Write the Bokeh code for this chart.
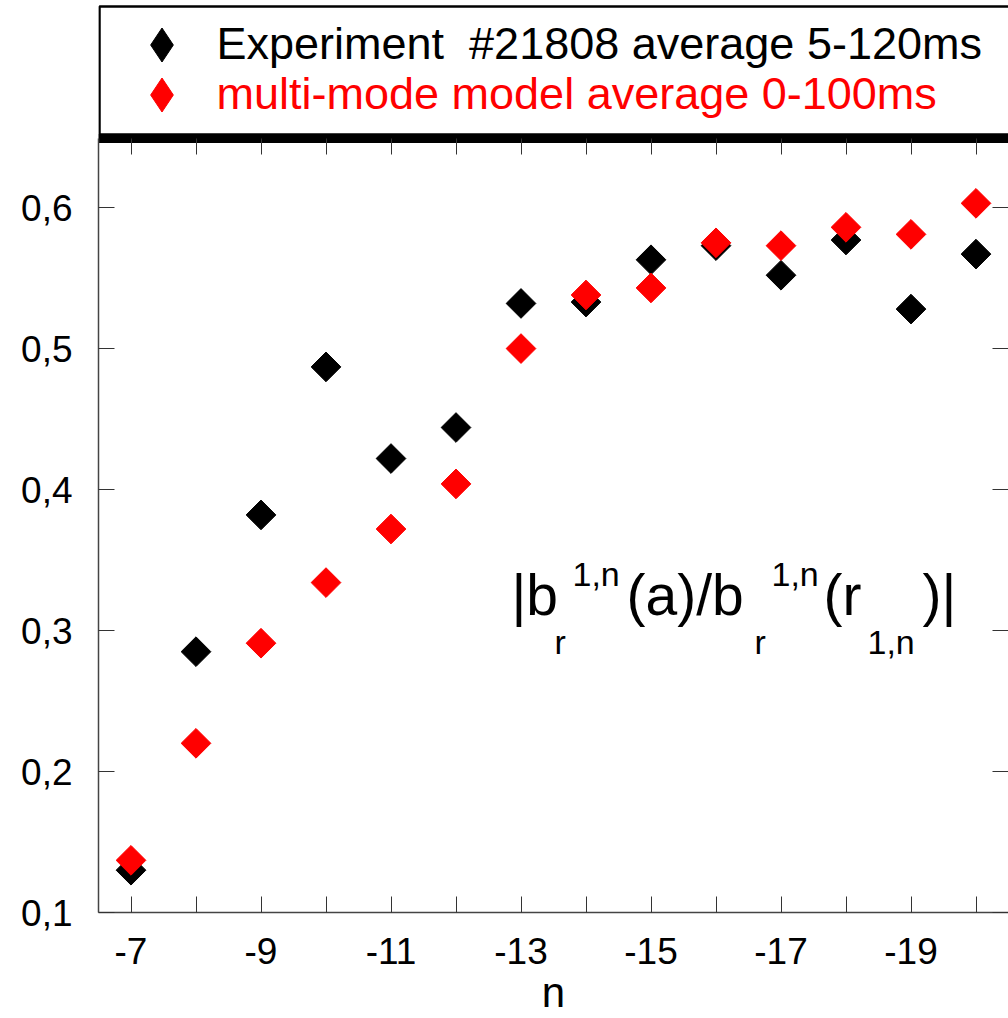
import math
from bokeh.plotting import figure
from bokeh.layouts import column
from bokeh.models import (Range1d, LinearAxis, FixedTicker, CustomJSTickFormatter, ColumnDataSource,
                          Legend, LegendItem, BoxAnnotation, Label, CustomLabelingPolicy)
from bokeh.embed import file_html
from bokeh.resources import INLINE

# ---- data ----
n_values = [-7, -8, -9, -10, -11, -12, -13, -14, -15, -16, -17, -18, -19, -20]
experiment = [0.130, 0.285, 0.382, 0.487, 0.422, 0.444, 0.532, 0.533, 0.563, 0.573, 0.552, 0.577, 0.528, 0.567]
model = [0.137, 0.220, 0.291, 0.334, 0.372, 0.404, 0.500, 0.538, 0.543, 0.575, 0.573, 0.586, 0.581, 0.603]
x_major_ticks = [-7, -9, -11, -13, -15, -17, -19]
x_minor_ticks = [-8, -10, -12, -14, -16, -18, -20]
y_ticks = [0.1, 0.2, 0.3, 0.4, 0.5, 0.6]
label_experiment = "Experiment  #21808 average 5-120ms"
label_model = "multi-mode model average 0-100ms"
x_label = "n"

FONT = "Liberation Sans"
TICK = "#333333"
RED = "#ff0000"

src_exp = ColumnDataSource(dict(n=n_values, v=experiment))
src_mod = ColumnDataSource(dict(n=n_values, v=model))

# ================= main plot =================
p = figure(width=1008, height=884, output_backend="svg", toolbar_location=None,
           x_range=Range1d(-6.5, -20.5), y_range=Range1d(0.1, 0.649),
           min_border_left=98, min_border_right=0, min_border_top=4, min_border_bottom=106)
p.grid.visible = False
p.outline_line_color = None
p.background_fill_color = "white"
p.border_fill_color = "white"

# bottom axis
xa = p.xaxis[0]
xa.ticker = FixedTicker(ticks=x_major_ticks, minor_ticks=x_minor_ticks)
xa.formatter = CustomJSTickFormatter(code="return tick.toFixed(0)")
xa.major_tick_in = 16
xa.major_tick_out = 0
xa.minor_tick_in = 16
xa.minor_tick_out = 0
xa.major_tick_line_color = TICK
xa.minor_tick_line_color = TICK
xa.axis_line_color = "#444444"
xa.axis_line_width = 1.5
xa.major_label_text_font = FONT
xa.major_label_text_font_size = "37px"
xa.major_label_text_color = "black"
xa.major_label_standoff = 25
xa.axis_label = x_label
xa.axis_label_text_font = FONT
xa.axis_label_text_font_size = "42px"
xa.axis_label_text_font_style = "normal"
xa.axis_label_text_color = "black"
xa.axis_label_standoff = 2

# left axis
ya = p.yaxis[0]
ya.ticker = FixedTicker(ticks=y_ticks)
ya.formatter = CustomJSTickFormatter(code="return tick.toFixed(1).replace('.', ',')")
ya.major_tick_in = 16
ya.major_tick_out = 0
ya.minor_tick_line_color = None
ya.major_tick_line_color = TICK
ya.axis_line_color = "#444444"
ya.axis_line_width = 1.5
ya.major_label_text_font = FONT
ya.major_label_text_font_size = "37px"
ya.major_label_text_color = "black"
ya.major_label_standoff = 26

no_labels = CustomLabelingPolicy(code="return new Set()")

# top axis (its thick line is the shadow under the legend box)
top = LinearAxis(ticker=FixedTicker(ticks=x_major_ticks + x_minor_ticks),
                 major_tick_in=16, major_tick_out=0, major_tick_line_color=TICK,
                 axis_line_color="black", axis_line_width=9,
                 major_label_policy=no_labels, major_label_text_font_size="0px",
                 major_label_standoff=0)
p.add_layout(top, "above")

# right axis: ticks only
right = LinearAxis(ticker=FixedTicker(ticks=y_ticks),
                   major_tick_in=16, major_tick_out=0, major_tick_line_color=TICK,
                   axis_line_color=None, major_label_policy=no_labels,
                   major_label_text_font_size="0px", major_label_standoff=0)
p.add_layout(right, "right")

# data
MARK = dict(marker="square", angle=math.pi / 4, size=21)
r_exp = p.scatter("n", "v", source=src_exp, fill_color="black", line_color="black", **MARK)
r_mod = p.scatter("n", "v", source=src_mod, fill_color=RED, line_color=RED, **MARK)

# annotation |b_r^{1,n}(a)/b_r^{1,n}(r_{1,n})|
BIG = "57px"
SMALL = "34px"
pieces = [
    ("|b", 413, 318, BIG),
    ("r", 456, 271, SMALL),
    ("1,n", 474, 339, SMALL),
    ("(a)/b", 528, 318, BIG),
    ("r", 656, 271, SMALL),
    ("1,n", 673, 339, SMALL),
    ("(r", 725, 318, BIG),
    ("1,n", 769, 271, SMALL),
    (")|", 824, 318, BIG),
]
for txt, sx, sy, fs in pieces:
    p.add_layout(Label(x=sx, y=sy, x_units="screen", y_units="screen", text=txt,
                       text_font=FONT, text_font_size=fs, text_color="black",
                       text_baseline="alphabetic", text_align="left"))

# ================= legend strip =================
lg = figure(width=1008, height=134, output_backend="svg", toolbar_location=None,
            x_range=Range1d(0, 1), y_range=Range1d(0, 1),
            x_axis_location=None, y_axis_location=None, min_border=0)
lg.grid.visible = False
lg.outline_line_color = None
lg.background_fill_color = "white"
lg.border_fill_color = "white"

box = BoxAnnotation(left=1, right=2000, top=128, bottom=0,
                    left_units="screen", right_units="screen", top_units="screen", bottom_units="screen",
                    fill_color="white", fill_alpha=1, line_color="black", line_alpha=1, line_width=2.5)
lg.add_layout(box)

# legend keys share the series' sources (their points lie outside this strip's ranges)
KEY = dict(marker="diamond", size=21)
k_exp = lg.scatter("n", "v", source=src_exp, fill_color="black", line_color="black", **KEY)
k_mod = lg.scatter("n", "v", source=src_mod, fill_color=RED, line_color=RED, **KEY)

common = dict(padding=0, margin=0, spacing=0, glyph_width=85, glyph_height=85, label_height=85,
              label_standoff=13, background_fill_alpha=0, border_line_color=None,
              label_text_font=FONT, label_text_font_size="45px")
leg_a = Legend(items=[LegendItem(label=label_experiment, renderers=[k_exp])],
               location=(20.5, 47.5), label_text_color="black", **common)
leg_b = Legend(items=[LegendItem(label=label_model, renderers=[k_mod])],
               location=(20.5, -2.5), label_text_color=RED, **common)
lg.add_layout(leg_a)
lg.add_layout(leg_b)

layout = column(lg, p, spacing=0)
open("out.html", "w").write(file_html(layout, INLINE))
